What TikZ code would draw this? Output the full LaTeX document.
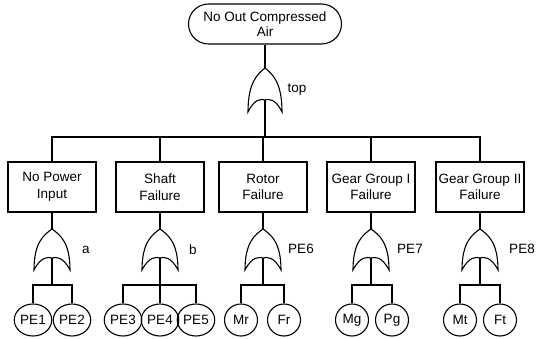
\documentclass[tikz,border=0pt]{standalone}
\usepackage{fontspec}
\setmainfont{Liberation Sans}
\usetikzlibrary{shapes.geometric,shapes.misc}
\tikzset{
  line/.style={line width=1.1pt,black},
  term/.style={rounded rectangle,draw,line width=1.1pt,minimum width=155pt,minimum height=40pt,align=center,inner sep=1pt,font=\fontsize{13.5}{15}\selectfont},
  evbox/.style={rectangle,draw,line width=1.1pt,minimum width=88pt,minimum height=50pt,align=center,inner sep=1pt,font=\fontsize{13.5}{16.5}\selectfont},
  basic/.style={ellipse,draw,line width=1.1pt,minimum width=33pt,minimum height=32pt,inner sep=0.5pt,font=\fontsize{13.5}{15}\selectfont},
  glabel/.style={inner sep=0pt,font=\fontsize{13.5}{15}\selectfont},
}
% OR gate: #1 = centre x, #2 = apex y, #3 = width, #4 = height, #5 = name
\newcommand\draworgate[5]{%
  \coordinate (#5-in) at (#1,#2);
  \coordinate (#5-out) at (#1,#2+#4-12);
  \draw[line] (#1,#2)
     .. controls (#1-0.22*#3,#2+0.14*#4) and (#1-0.5*#3,#2+0.32*#4) .. (#1-0.5*#3,#2+#4)
     .. controls (#1-0.3*#3,#2+#4-14) and (#1-0.1*#3,#2+#4-13) .. (#1,#2+#4-12)
     .. controls (#1+0.1*#3,#2+#4-13) and (#1+0.3*#3,#2+#4-14) .. (#1+0.5*#3,#2+#4)
     .. controls (#1+0.5*#3,#2+0.32*#4) and (#1+0.22*#3,#2+0.14*#4) .. (#1,#2);
}
\begin{document}
\begin{tikzpicture}[x=1pt,y=-1pt]
\useasboundingbox (0,0) rectangle (536,339);

% top event
\node[term] (topev) at (265,24) {No Out Compressed\\Air};
\draworgate{265}{68}{34}{44}{gtop}
\node[glabel] (ltop) at (297,90) {top};
\draw[line] (topev.south) -- (gtop-in);
\coordinate (bus) at (265,137);
\draw[line] (gtop-out) -- (bus);

% intermediate events
\node[evbox] (b1) at (52,187) {No Power\\Input};
\node[evbox] (b2) at (160,187) {Shaft\\Failure};
\node[evbox] (b3) at (263,187) {Rotor\\Failure};
\node[evbox] (b4) at (371,187) {Gear Group I\\Failure};
\node[evbox] (b5) at (480,187) {Gear Group II\\Failure};
\foreach \b in {b1,b2,b3,b4,b5} \draw[line] (\b.north) |- (bus);

% gates
\draworgate{52}{229}{36}{41}{g1}
\draworgate{160}{229}{36}{41}{g2}
\draworgate{263}{229}{36}{41}{g3}
\draworgate{371}{229}{36}{41}{g4}
\draworgate{480}{229}{36}{41}{g5}
\node[glabel] (la) at (86,250) {a};
\node[glabel] (lb) at (193,250) {b};
\node[glabel] (lc) at (301,249) {PE6};
\node[glabel] (ld) at (410,249) {PE7};
\node[glabel] (le) at (522,249) {PE8};
\foreach \i in {1,...,5} \draw[line] (b\i.south) -- (g\i-in);

% bars
\foreach \i/\x in {1/52,2/160,3/263,4/371,5/480} {
  \coordinate (bar\i) at (\x,285);
  \draw[line] (g\i-out) -- (bar\i);
}

% basic events
\node[basic] (pe1) at (33,320) {PE1};
\node[basic] (pe2) at (72,320) {PE2};
\node[basic] (pe3) at (123,320) {PE3};
\node[basic] (pe4) at (160,320) {PE4};
\node[basic] (pe5) at (196,320) {PE5};
\node[basic] (mr) at (241,320) {Mr};
\node[basic] (fr) at (284,320) {Fr};
\node[basic] (mg) at (352,320) {Mg};
\node[basic] (pg) at (392,320) {Pg};
\node[basic] (mt) at (460,320) {Mt};
\node[basic] (ft) at (500,320) {Ft};

\draw[line] (pe1.north) |- (bar1);
\draw[line] (pe2.north) |- (bar1);
\draw[line] (pe3.north) |- (bar2);
\draw[line] (pe4.north) -- (bar2);
\draw[line] (pe5.north) |- (bar2);
\draw[line] (mr.north) |- (bar3);
\draw[line] (fr.north) |- (bar3);
\draw[line] (mg.north) |- (bar4);
\draw[line] (pg.north) |- (bar4);
\draw[line] (mt.north) |- (bar5);
\draw[line] (ft.north) |- (bar5);
\end{tikzpicture}
\end{document}
